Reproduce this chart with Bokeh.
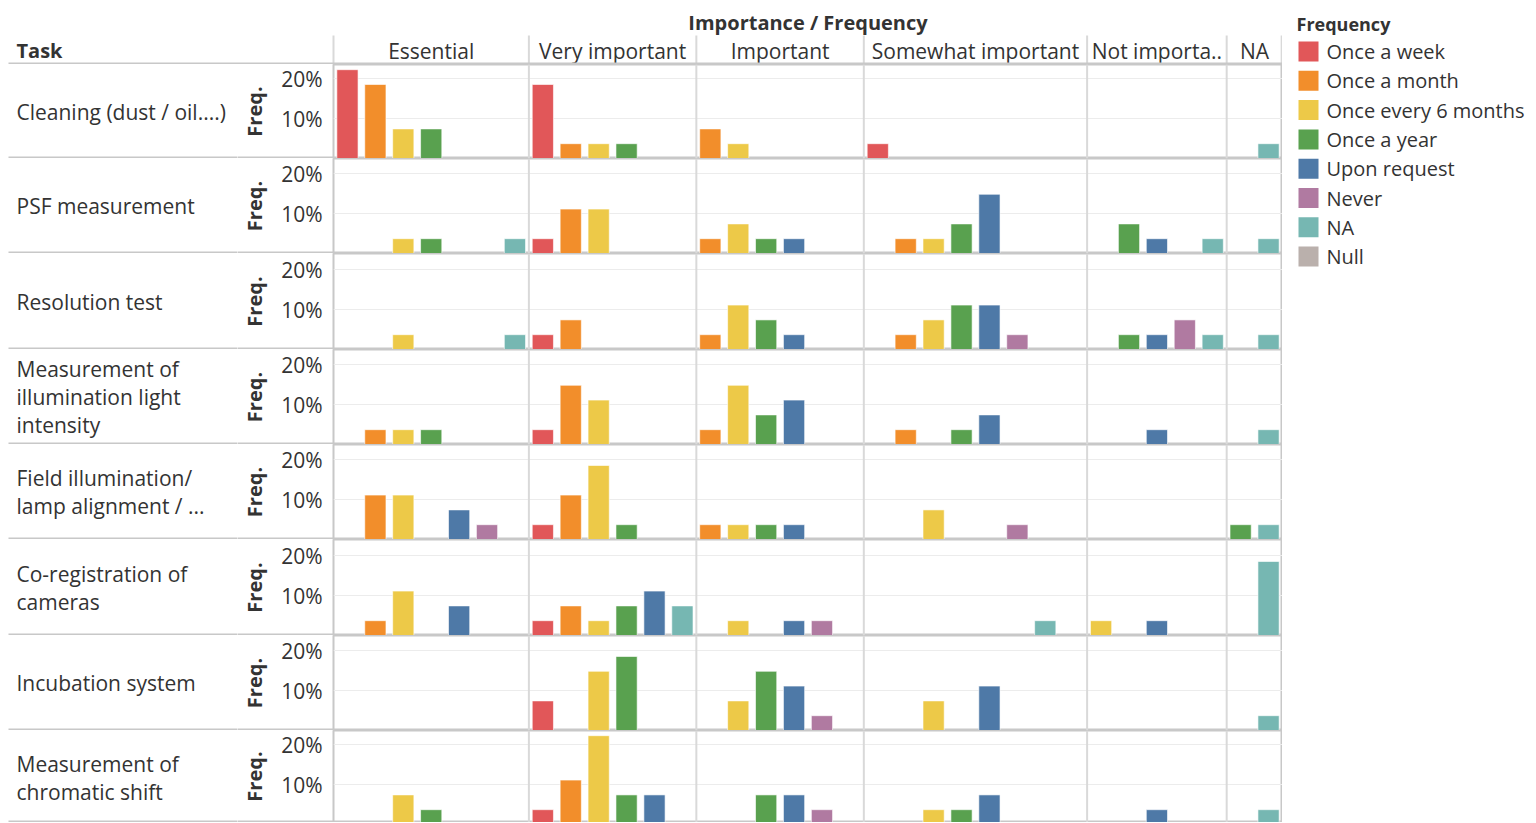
import numpy as np
from bokeh.plotting import figure
from bokeh.models import (FactorRange, Range1d, FixedTicker, PrintfTickFormatter, Span,
                          ColumnDataSource)
from bokeh.layouts import column, row
from bokeh.embed import file_html
from bokeh.resources import INLINE
from bokeh.core.properties import value

# ---------------- data ----------------
importance = ["Essential", "Very important", "Important", "Somewhat important", "Not important", "NA"]
importance_labels = ["Essential", "Very important", "Important", "Somewhat important", "Not importa..", "NA"]

frequencies = ["Once a week", "Once a month", "Once every 6 months", "Once a year",
               "Upon request", "Never", "NA", "Null"]
freq_colors = ["#e15759", "#f28e2b", "#edc948", "#59a14f", "#4e79a7", "#b07aa1", "#76b7b2", "#bab0ac"]

# frequency categories present in each importance column
slots_essential = ["Once a week", "Once a month", "Once every 6 months", "Once a year", "Upon request", "Never", "NA"]
slots_very = ["Once a week", "Once a month", "Once every 6 months", "Once a year", "Upon request", "NA"]
slots_important = ["Once a month", "Once every 6 months", "Once a year", "Upon request", "Never", "NA"]
slots_somewhat = ["Once a week", "Once a month", "Once every 6 months", "Once a year", "Upon request", "Never", "NA", "Null"]
slots_not = ["Once every 6 months", "Once a year", "Upon request", "Never", "NA"]
slots_na = ["Once a year", "NA"]
slots = [slots_essential, slots_very, slots_important, slots_somewhat, slots_not, slots_na]

task_labels = ["Cleaning (dust / oil....)", "PSF measurement", "Resolution test",
               "Measurement of\nillumination light\nintensity",
               "Field illumination/\nlamp alignment / ...", "Co-registration of\ncameras",
               "Incubation system", "Measurement of\nchromatic shift"]

# percent of respondents, per importance column (aligned with the slot lists above)
cleaning = [[22.2, 18.5, 7.4, 7.4, 0, 0, 0], [18.5, 3.7, 3.7, 3.7, 0, 0], [7.4, 3.7, 0, 0, 0, 0],
            [3.7, 0, 0, 0, 0, 0, 0, 0], [0, 0, 0, 0, 0], [0, 3.7]]
psf = [[0, 0, 3.7, 3.7, 0, 0, 3.7], [3.7, 11.1, 11.1, 0, 0, 0], [3.7, 7.4, 3.7, 3.7, 0, 0],
       [0, 3.7, 3.7, 7.4, 14.8, 0, 0, 0], [0, 7.4, 3.7, 0, 3.7], [0, 3.7]]
resolution = [[0, 0, 3.7, 0, 0, 0, 3.7], [3.7, 7.4, 0, 0, 0, 0], [3.7, 11.1, 7.4, 3.7, 0, 0],
              [0, 3.7, 7.4, 11.1, 11.1, 3.7, 0, 0], [0, 3.7, 3.7, 7.4, 3.7], [0, 3.7]]
illumination = [[0, 3.7, 3.7, 3.7, 0, 0, 0], [3.7, 14.8, 11.1, 0, 0, 0], [3.7, 14.8, 7.4, 11.1, 0, 0],
                [0, 3.7, 0, 3.7, 7.4, 0, 0, 0], [0, 0, 3.7, 0, 0], [0, 3.7]]
field = [[0, 11.1, 11.1, 0, 7.4, 3.7, 0], [3.7, 11.1, 18.5, 3.7, 0, 0], [3.7, 3.7, 3.7, 3.7, 0, 0],
         [0, 0, 7.4, 0, 0, 3.7, 0, 0], [0, 0, 0, 0, 0], [3.7, 3.7]]
coregistration = [[0, 3.7, 11.1, 0, 7.4, 0, 0], [3.7, 7.4, 3.7, 7.4, 11.1, 7.4], [0, 3.7, 0, 3.7, 3.7, 0],
                  [0, 0, 0, 0, 0, 0, 3.7, 0], [3.7, 0, 3.7, 0, 0], [0, 18.5]]
incubation = [[0, 0, 0, 0, 0, 0, 0], [7.4, 0, 14.8, 18.5, 0, 0], [0, 7.4, 14.8, 11.1, 3.7, 0],
              [0, 0, 7.4, 0, 11.1, 0, 0, 0], [0, 0, 0, 0, 0], [0, 3.7]]
chromatic = [[0, 0, 7.4, 3.7, 0, 0, 0], [3.7, 11.1, 22.2, 7.4, 7.4, 0], [0, 0, 7.4, 7.4, 3.7, 0],
             [0, 0, 3.7, 3.7, 7.4, 0, 0, 0], [0, 0, 3.7, 0, 0], [0, 3.7]]
task_values = [cleaning, psf, resolution, illumination, field, coregistration, incubation, chromatic]

y_ticks = [10, 20]

# ---------------- layout / style ----------------
FONT = value("Open Sans")
FONT_NAME = "Open Sans"
TXT = "#333333"
SEP = "#c8c8c8"
VSEP = "#d9d9d9"

LABEL_W = 237       # task-label column width (px)
AXIS_W = 96         # y-axis area width (px)
LEFT = LABEL_W + AXIS_W
FRAME_W = 949       # panel area width (px)
HEADER_H = 64
PXY = 4.0           # px per percentage point
row_heights = [94, 95, 96, 95, 95, 96, 95, 92]
row_y0 = [0, 0, 0, 0, 0, 0, 0, 0.5]
label_y = [47, 47.5, 48, 47.5, 47.5, 48, 47.5, 45]   # label centre, px above row bottom
LABEL_X = 16
SEP_X0 = 8

factors = [(imp, f) for imp, sl in zip(importance, slots) for f in sl]
n_slots = len(factors)
ends = np.cumsum([len(s) for s in slots])
starts = np.concatenate([[0], ends[:-1]])
centers = (starts + ends) / 2.0
PX = FRAME_W / n_slots


def blank(fig):
    fig.grid.visible = False
    fig.outline_line_color = None


# ---------- header ----------
hd = figure(width=LEFT + FRAME_W, height=HEADER_H, x_range=Range1d(-LEFT / PX, n_slots),
            y_range=Range1d(0, HEADER_H), toolbar_location=None, output_backend="svg",
            x_axis_location=None, y_axis_location=None, min_border=0)
blank(hd)
hd.text(x=[float(c) for c in centers], y=[14] * len(importance), text=importance_labels,
        text_align="center", text_baseline="middle", text_font=FONT,
        text_font_size="21px", text_color=TXT)
hd.text(x=[n_slots / 2.0], y=[42], text=["Importance / Frequency"], text_align="center",
        text_baseline="middle", text_font=FONT, text_font_size="20px",
        text_font_style="bold", text_color=TXT)
hd.text(x=[-(LEFT - LABEL_X) / PX], y=[14], text=["Task"], text_align="left",
        text_baseline="middle", text_font=FONT, text_font_size="20px",
        text_font_style="bold", text_color=TXT)
edges = [float(e) for e in starts] + [float(n_slots) - 0.03]
hd.segment(x0=edges, y0=[0] * len(edges), x1=edges, y1=[29] * len(edges),
           line_color=VSEP, line_width=2)
hd.segment(x0=[-(LEFT - SEP_X0) / PX], y0=[1], x1=[n_slots], y1=[1],
           line_color=SEP, line_width=2)

rows_ = [hd]
for i, vals in enumerate(task_values):
    h = row_heights[i]
    y0 = row_y0[i]
    y1 = y0 + h / PXY

    # task label cell
    lf = figure(width=LABEL_W, height=h, x_range=Range1d(0, LABEL_W), y_range=Range1d(0, h),
                toolbar_location=None, output_backend="svg", x_axis_location=None,
                y_axis_location=None, min_border=0)
    blank(lf)
    lf.text(x=[LABEL_X], y=[label_y[i]], text=[task_labels[i]], text_align="left",
            text_baseline="middle", text_font=FONT, text_font_size="21px",
            text_color=TXT, text_line_height=1.0)
    lf.segment(x0=[SEP_X0], y0=[1], x1=[LABEL_W], y1=[1], line_color=SEP, line_width=2)

    # bar panel
    p = figure(width=AXIS_W + FRAME_W, height=h,
               x_range=FactorRange(factors=factors, group_padding=0, subgroup_padding=0,
                                   factor_padding=0, range_padding=0),
               y_range=Range1d(y0, y1), toolbar_location=None, output_backend="svg",
               x_axis_location=None, y_axis_location="left",
               min_border_left=AXIS_W, min_border_right=0, min_border_top=0, min_border_bottom=0)
    xs, tops, cols = [], [], []
    for imp, sl, vv in zip(importance, slots, vals):
        for f, v in zip(sl, vv):
            if v > 0:
                xs.append((imp, f))
                tops.append(v)
                cols.append(freq_colors[frequencies.index(f)])
    src = ColumnDataSource(dict(x=xs, top=tops, color=cols))
    p.vbar(x="x", top="top", bottom=0, width=0.76, source=src, fill_color="color",
           line_color="white", line_width=1, line_alpha=0.6)
    p.xgrid.visible = False
    p.ygrid.ticker = FixedTicker(ticks=y_ticks)
    p.ygrid.grid_line_color = "#ececec"
    p.ygrid.grid_line_width = 1
    ax = p.yaxis[0]
    # a minor tick at the row bottom continues the row separator under the axis area
    ax.ticker = FixedTicker(ticks=y_ticks, minor_ticks=[y0 + 1.0 / PXY])
    ax.formatter = PrintfTickFormatter(format="%d%%")
    ax.axis_label = "Freq."
    ax.axis_label_text_font = FONT_NAME
    ax.axis_label_text_font_size = "20px"
    ax.axis_label_text_font_style = "bold"
    ax.axis_label_text_color = TXT
    ax.axis_label_standoff = 10
    ax.major_label_text_font = FONT_NAME
    ax.major_label_text_font_size = "21px"
    ax.major_label_text_color = TXT
    ax.major_label_standoff = 11
    ax.axis_line_color = None
    ax.major_tick_line_color = None
    ax.major_tick_out = 0
    ax.major_tick_in = 0
    ax.minor_tick_line_color = SEP
    ax.minor_tick_line_width = 2
    ax.minor_tick_out = 0
    ax.minor_tick_in = -AXIS_W
    p.outline_line_color = SEP
    p.outline_line_width = 2
    for b in ends[:-1]:
        p.add_layout(Span(location=float(b), dimension="height", line_color=VSEP, line_width=2))
    rows_.append(row(lf, p))

# ---------- legend (own small panel to the right) ----------
LEG_W = 252
LEG_H = HEADER_H + sum(row_heights)
lg = figure(width=LEG_W, height=LEG_H, x_range=Range1d(0, LEG_W), y_range=Range1d(LEG_H, 0),
            toolbar_location=None, output_backend="svg", x_axis_location=None, y_axis_location=None,
            min_border=0)
blank(lg)
k = np.arange(len(frequencies))
item_y = 51 + 29.3 * k
lsrc = ColumnDataSource(dict(y=item_y, color=freq_colors, label=frequencies))
lg.rect(x=26, y="y", width=20, height=20, fill_color="color", line_color=None, source=lsrc)
lg.text(x=44, y="y", text="label", text_font=FONT, text_font_size="20px", text_color=TXT,
        text_baseline="middle", text_align="left", source=lsrc)
lg.text(x=[14], y=[23], text=["Frequency"], text_font=FONT, text_font_size="18px",
        text_font_style="bold", text_color=TXT, text_baseline="middle", text_align="left")

layout = row(column(*rows_), lg)
open("out.html", "w").write(file_html(layout, INLINE))
